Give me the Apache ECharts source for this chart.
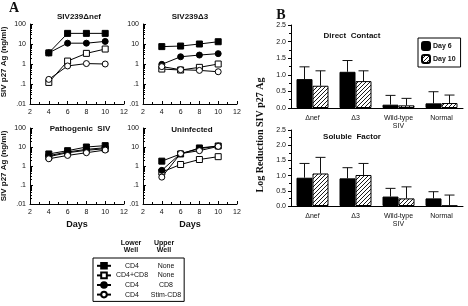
<!DOCTYPE html>
<html>
<head>
<meta charset="utf-8">
<script src="https://cdn.jsdelivr.net/npm/echarts@6/dist/echarts.min.js"></script>
<style>
  html, body { margin: 0; padding: 0; background: #fff; }
  #box1 { width: 468px; height: 306px; }
</style>
</head>
<body>
<div id="box1"></div>
<script>
// panel A, SIV p27 (ng/ml) on days 4..10
var days = [4, 6, 8, 10]
var xTicks = [2, 4, 6, 8, 10, 12]
var yLogTicks = ['.01', '.1', '1', '10', '100']

var nefCD4 = [3.6, 34, 34, 34]
var nefCD4CD8 = [0.12, 1.4, 3.4, 5.6]
var nefCD8 = [3.6, 11, 11, 13.5]
var nefStim = [0.17, 0.8, 1.05, 1.0]

var d3CD4 = [7.4, 7.9, 10, 13]
var d3CD4CD8 = [0.56, 0.5, 0.68, 1.0]
var d3CD8 = [0.96, 2.3, 2.8, 3.3]
var d3Stim = [0.74, 0.52, 0.48, 0.41]

var pathCD4 = [4.3, 6.4, 10, 11.8]
var pathCD4CD8 = [3.1, 5.0, 6.7, 8.1]
var pathCD8 = [3.5, 5.5, 7.5, 9.2]
var pathStim = [2.4, 3.6, 5.0, 6.9]

var uninfCD4 = [1.8, 4.3, 8.9, 11.3]
var uninfCD4CD8 = [0.48, 1.2, 2.2, 3.1]
var uninfCD8 = [0.59, 4.5, 8.1, 11.3]
var uninfStim = [0.26, 4.5, 6.4, 10.8]

// panel B, log reduction
var groups = ['Δnef', 'Δ3', 'Wild-type\nSIV', 'Normal']
var direct6 = [0.87, 1.09, 0.10, 0.14]
var direct6Err = [0.37, 0.34, 0.28, 0.35]
var direct10 = [0.67, 0.81, 0.08, 0.15]
var direct10Err = [0.45, 0.31, 0.21, 0.24]
var soluble6 = [0.93, 0.91, 0.31, 0.25]
var soluble6Err = [0.47, 0.35, 0.27, 0.22]
var soluble10 = [1.07, 1.02, 0.25, 0.01]
var soluble10Err = [0.53, 0.38, 0.38, 0.35]

var sans = 'Liberation Sans'
var serif = 'Liberation Serif'

// hatch for Day 10
var hatch = document.createElement('canvas')
hatch.width = 4
hatch.height = 4
var hc = hatch.getContext('2d')
hc.fillStyle = '#fff'
hc.fillRect(0, 0, 4, 4)
hc.strokeStyle = '#000'
hc.lineWidth = 0.9
hc.beginPath()
hc.moveTo(0, 4); hc.lineTo(4, 0)
hc.moveTo(-1, 1); hc.lineTo(1, -1)
hc.moveTo(3, 5); hc.lineTo(5, 3)
hc.stroke()
var hatchFill = { image: hatch, repeat: 'repeat' }

var kinds = [
    { name: 'CD4|None', symbol: 'rect', fill: '#000' },
    { name: 'CD4+CD8|None', symbol: 'rect', fill: '#fff' },
    { name: 'CD4|CD8', symbol: 'circle', fill: '#000' },
    { name: 'CD4|Stim-CD8', symbol: 'circle', fill: '#fff' }
]
var panels = [
    [nefCD4, nefCD4CD8, nefCD8, nefStim],
    [d3CD4, d3CD4CD8, d3CD8, d3Stim],
    [pathCD4, pathCD4CD8, pathCD8, pathStim],
    [uninfCD4, uninfCD4CD8, uninfCD8, uninfStim]
]

var grids = [
    { left: 30, top: 24, width: 94, height: 80 },
    { left: 143, top: 24, width: 94, height: 80 },
    { left: 30, top: 128, width: 94, height: 76 },
    { left: 143, top: 128, width: 94, height: 76 },
    { left: 291, top: 25, width: 172, height: 83 },
    { left: 291, top: 130, width: 172, height: 76 }
]

var axisLine = { lineStyle: { color: '#000', width: 1 } }
var tickLabel = { fontFamily: sans, fontSize: 7, color: '#111' }

var xAxes = []
var yAxes = []
for (var g = 0; g < 4; g++) {
    xAxes.push({
        gridIndex: g, type: 'value', min: xTicks[0], max: xTicks[xTicks.length - 1], interval: 2,
        axisLine: axisLine, splitLine: { show: false },
        axisTick: { inside: true, length: 3, lineStyle: { color: '#000' } },
        minorTick: { show: true, splitNumber: 2, length: 2, lineStyle: { color: '#000' } },
        axisLabel: Object.assign({ margin: 5 }, tickLabel),
        name: g >= 2 ? 'Days' : '', nameLocation: 'middle', nameGap: 16,
        nameTextStyle: { fontFamily: sans, fontSize: 9, fontWeight: 'bold', color: '#111' }
    })
    yAxes.push({
        gridIndex: g, type: 'log', logBase: 10, min: 0.01, max: 100,
        axisLine: axisLine, splitLine: { show: false },
        axisTick: { inside: true, length: 3, lineStyle: { color: '#000' } },
        minorTick: { show: true, splitNumber: 9, length: 2, lineStyle: { color: '#000' } },
        axisLabel: Object.assign({
            margin: 4,
            formatter: function (v) { return yLogTicks[Math.round(Math.log10(v)) + 2] }
        }, tickLabel)
    })
}
for (var b = 4; b < 6; b++) {
    xAxes.push({
        gridIndex: b, type: 'category', data: groups,
        axisLine: axisLine,
        axisTick: { length: 3, lineStyle: { color: '#000' } },
        axisLabel: { interval: 0, fontFamily: sans, fontSize: 7, color: '#111', lineHeight: 8, margin: 6 }
    })
    yAxes.push({
        gridIndex: b, type: 'value', min: 0, max: 2.5, interval: 0.5,
        axisLine: { show: true, lineStyle: { color: '#000', width: 1 } },
        splitLine: { show: false },
        axisTick: { show: true, length: 3, lineStyle: { color: '#000' } },
        minorTick: { show: true, splitNumber: 2, length: 2, lineStyle: { color: '#000' } },
        axisLabel: Object.assign({ margin: 5, formatter: function (v) { return v.toFixed(1) } }, tickLabel)
    })
}

var series = []
panels.forEach(function (panel, g) {
    panel.forEach(function (vals, k) {
        series.push({
            name: kinds[k].name, type: 'line', xAxisIndex: g, yAxisIndex: g,
            data: days.map(function (d, i) { return [d, vals[i]] }),
            symbol: kinds[k].symbol, symbolSize: 6,
            lineStyle: { color: '#000', width: 1 },
            itemStyle: { color: kinds[k].fill, borderColor: '#000', borderWidth: 1 },
            emphasis: { disabled: true }
        })
    })
})

function errBars(axis, vals, errs, offset) {
    return {
        type: 'custom', xAxisIndex: axis, yAxisIndex: axis, silent: true, z: 3,
        data: vals.map(function (v, i) { return [i, v, v + errs[i]] }),
        encode: { x: 0, y: [1, 2] },
        renderItem: function (params, api) {
            var lo = api.coord([api.value(0), api.value(1)])
            var hi = api.coord([api.value(0), api.value(2)])
            var x = lo[0] + offset
            var st = { stroke: '#111', lineWidth: 1 }
            return {
                type: 'group', children: [
                    { type: 'line', shape: { x1: x, y1: lo[1], x2: x, y2: hi[1] }, style: st },
                    { type: 'line', shape: { x1: x - 5, y1: hi[1], x2: x + 5, y2: hi[1] }, style: st }
                ]
            }
        }
    }
}

var barSets = [[4, direct6, direct6Err, direct10, direct10Err], [5, soluble6, soluble6Err, soluble10, soluble10Err]]
barSets.forEach(function (s) {
    series.push({
        name: 'Day 6', type: 'bar', xAxisIndex: s[0], yAxisIndex: s[0], data: s[1],
        barWidth: 16, barGap: '0%',
        itemStyle: { color: '#000', borderColor: '#000', borderWidth: 1 }
    })
    series.push({
        name: 'Day 10', type: 'bar', xAxisIndex: s[0], yAxisIndex: s[0], data: s[3],
        barWidth: 16, barGap: '0%',
        itemStyle: { color: hatchFill, borderColor: '#000', borderWidth: 1 }
    })
    series.push(errBars(s[0], s[1], s[2], -8))
    series.push(errBars(s[0], s[3], s[4], 8))
})

function txt(x, y, text, font, rot) {
    return {
        type: 'text', x: x, y: y, rotation: rot || 0, silent: true,
        style: { text: text, font: font, fill: '#111', textAlign: 'center', textVerticalAlign: 'middle' }
    }
}

var first = echarts.init(document.getElementById('box1'))
var option = {
    animation: false,
    backgroundColor: '#fff',
    grid: grids,
    xAxis: xAxes,
    yAxis: yAxes,
    legend: [
        {
            data: kinds.map(function (k) { return k.name }),
            orient: 'vertical', left: 93, top: 258,
            borderColor: '#000', borderWidth: 1, padding: [4, 3, 3, 3],
            itemWidth: 14, itemHeight: 7, itemGap: 2,
            selectedMode: false,
            formatter: function (n) {
                var p = n.split('|')
                return '{a|' + p[0] + '}{b|' + p[1] + '}'
            },
            textStyle: {
                fontFamily: sans, fontSize: 7, color: '#111',
                rich: {
                    a: { width: 32, align: 'center', fontFamily: sans, fontSize: 7 },
                    b: { width: 36, align: 'center', fontFamily: sans, fontSize: 7 }
                }
            }
        },
        {
            data: ['Day 6', 'Day 10'],
            orient: 'vertical', left: 418, top: 38,
            borderColor: '#000', borderWidth: 1, padding: [3, 5, 3, 3],
            itemWidth: 8, itemHeight: 8, itemGap: 3,
            selectedMode: false,
            textStyle: { fontFamily: sans, fontSize: 7, fontWeight: 'bold', color: '#111', padding: [0, 0, 0, -2] }
        }
    ],
    graphic: [
        txt(14, 8, 'A', 'bold 14px ' + serif),
        txt(281, 15, 'B', 'bold 14px ' + serif),
        txt(79, 17, 'SIV239Δnef', 'bold 8px ' + sans),
        txt(190, 17, 'SIV239Δ3', 'bold 8px ' + sans),
        txt(80, 129, 'Pathogenic  SIV', 'bold 8px ' + sans),
        txt(192, 130, 'Uninfected', 'bold 8px ' + sans),
        txt(352, 36, 'Direct  Contact', 'bold 8px ' + sans),
        txt(352, 137, 'Soluble  Factor', 'bold 8px ' + sans),
        txt(4, 62, 'SIV p27 Ag (ng/ml)', 'bold 8px ' + sans, Math.PI / 2),
        txt(4, 166, 'SIV p27 Ag (ng/ml)', 'bold 8px ' + sans, Math.PI / 2),
        txt(260, 135, 'Log Reduction SIV p27 Ag', 'bold 10px ' + serif, Math.PI / 2),
        txt(131, 247, 'Lower\nWell', 'bold 7px ' + sans),
        txt(164, 247, 'Upper\nWell', 'bold 7px ' + sans)
    ],
    series: series
}
first.setOption(option)
</script>
</body>
</html>
